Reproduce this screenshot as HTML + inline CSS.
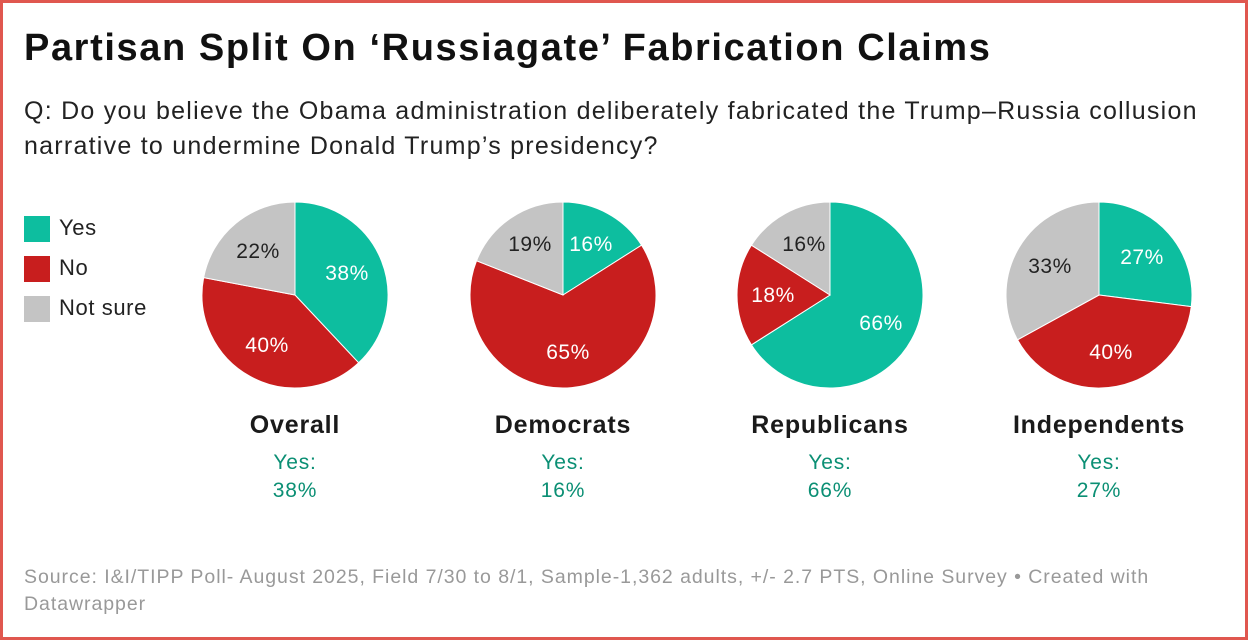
<!DOCTYPE html>
<html><head><meta charset="utf-8"><style>
html,body{margin:0;padding:0;}
body{width:1248px;height:640px;overflow:hidden;background:#fff;font-family:"Liberation Sans",Arial,sans-serif;}
.frame{position:absolute;left:0;top:0;width:1242px;height:634px;border:3px solid #e0574f;}
.t{position:absolute;white-space:nowrap;}
</style></head><body>
<div class="frame"></div>
<div class="t" style="left:24px;top:27px;font-size:38px;letter-spacing:1.6px;font-weight:bold;color:#111;">Partisan Split On ‘Russiagate’ Fabrication Claims</div>
<div class="t" style="left:24px;top:94px;font-size:25px;letter-spacing:1.25px;color:#222;line-height:35px;">Q: Do you believe the Obama administration deliberately fabricated the Trump–Russia collusion<br>narrative to undermine Donald Trump’s presidency?</div>
<div style="position:absolute;left:24px;top:216px;width:26px;height:26px;background:#0dbe9f"></div>
<div style="position:absolute;left:24px;top:256px;width:26px;height:26px;background:#c81e1e"></div>
<div style="position:absolute;left:24px;top:296px;width:26px;height:26px;background:#c4c4c4"></div>
<div class="t" style="left:59px;top:215px;font-size:22px;letter-spacing:0.6px;color:#222">Yes</div>
<div class="t" style="left:59px;top:255px;font-size:22px;letter-spacing:0.6px;color:#222">No</div>
<div class="t" style="left:59px;top:295px;font-size:22px;letter-spacing:0.6px;color:#222">Not sure</div>
<svg id="s" width="1248" height="640" style="position:absolute;left:0;top:0"></svg>
<div class="t" style="left:24px;top:564px;font-size:19.5px;letter-spacing:0.95px;color:#999;line-height:27px;">Source: I&amp;I/TIPP Poll- August 2025, Field 7/30 to 8/1, Sample-1,362 adults, +/- 2.7 PTS, Online Survey • Created with<br>Datawrapper</div>
<script>
var pies=[
 {cx:295,n:"Overall",v:[38,40,22],l:[[347,273],[267,345],[258,251]]},
 {cx:563,n:"Democrats",v:[16,65,19],l:[[591,244],[568,352],[530,244]]},
 {cx:830,n:"Republicans",v:[66,18,16],l:[[881,323],[773,295],[804,244]]},
 {cx:1099,n:"Independents",v:[27,40,33],l:[[1142,257],[1111,352],[1050,266]]}];
var cols=["#0dbe9f","#c81e1e","#c4c4c4"],tc=["#fff","#fff","#222"];
var cy=295,r=93,h="",F='font-family="Liberation Sans, Arial, sans-serif"';
pies.forEach(function(p){
 var tot=p.v[0]+p.v[1]+p.v[2],a=0;
 p.v.forEach(function(v,i){
  var a0=a,a1=a+v/tot*2*Math.PI;a=a1;
  var x0=p.cx+r*Math.sin(a0),y0=cy-r*Math.cos(a0),x1=p.cx+r*Math.sin(a1),y1=cy-r*Math.cos(a1);
  h+='<path d="M'+p.cx+','+cy+'L'+x0+','+y0+'A'+r+','+r+' 0 '+((a1-a0)>Math.PI?1:0)+' 1 '+x1+','+y1+'Z" fill="'+cols[i]+'" stroke="#fff" stroke-width="1"/>';
 });
 p.v.forEach(function(v,i){
  h+='<text x="'+p.l[i][0]+'" y="'+(p.l[i][1]+7)+'" text-anchor="middle" font-size="21" letter-spacing="0.5" fill="'+tc[i]+'" '+F+'>'+v+'%</text>';
 });
 h+='<text x="'+p.cx+'" y="433" text-anchor="middle" font-size="25" letter-spacing="0.8" font-weight="bold" fill="#1a1a1a" '+F+'>'+p.n+'</text>';
 h+='<text x="'+p.cx+'" y="469" text-anchor="middle" font-size="21" letter-spacing="0.8" fill="#0b8f74" '+F+'>Yes:</text>';
 h+='<text x="'+p.cx+'" y="497" text-anchor="middle" font-size="21" letter-spacing="0.8" fill="#0b8f74" '+F+'>'+p.v[0]+'%</text>';
});
document.getElementById("s").innerHTML=h;
</script>
</body></html>
